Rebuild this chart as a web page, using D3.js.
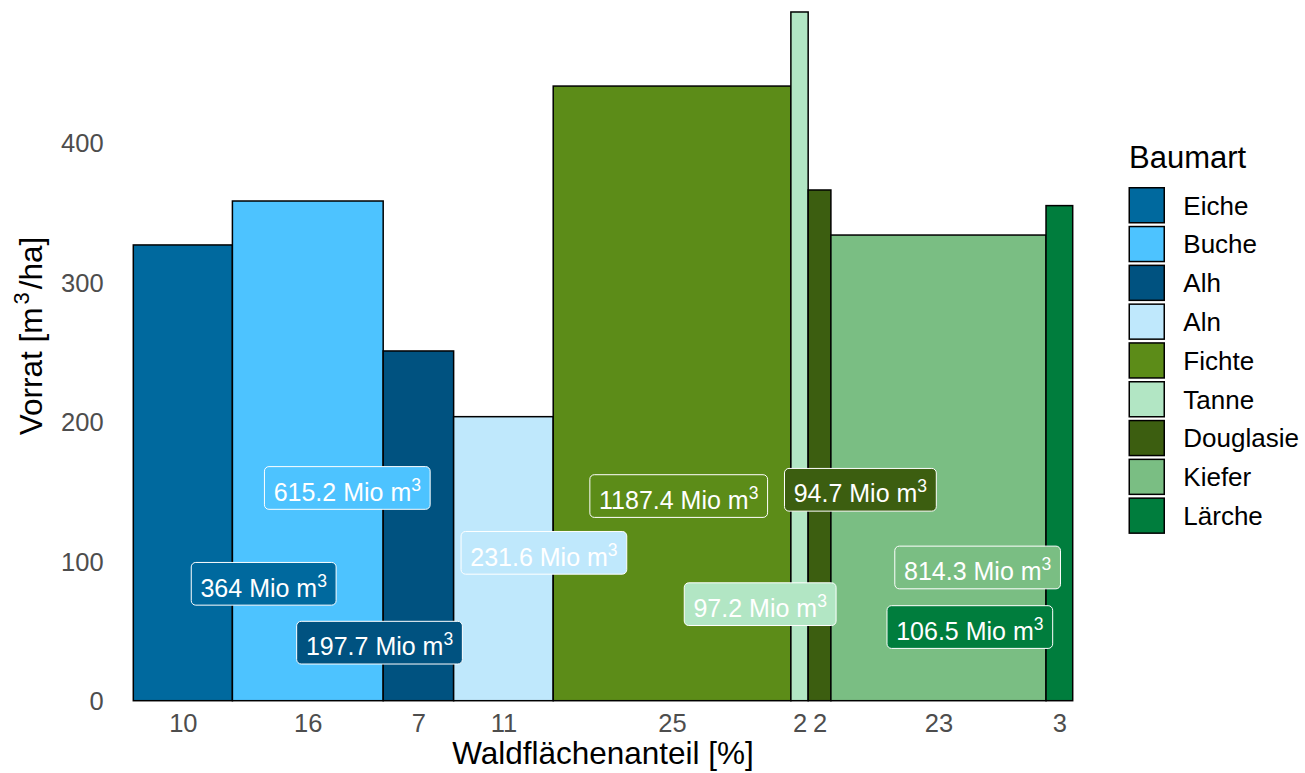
<!DOCTYPE html>
<html>
<head>
<meta charset="utf-8">
<script src="https://cdn.jsdelivr.net/npm/d3@7"></script>
<style>
  html, body { margin: 0; padding: 0; background: #fff; }
  svg { display: block; font-family: "Liberation Sans", Arial, sans-serif; }
</style>
</head>
<body>
<svg id="chart" width="1305" height="773"></svg>
<script>
// ---- data ----
const baumart = ["Eiche", "Buche", "Alh", "Aln", "Fichte", "Tanne", "Douglasie", "Kiefer", "Lärche"];
const vorrat = [326.7, 358.2, 250.7, 203.6, 440.6, 493.7, 366.1, 333.8, 354.9];       // m³/ha
const flaechenanteil = [10.55, 16.05, 7.5, 10.6, 25.3, 1.84, 2.42, 22.9, 2.84];       // % Waldfläche
const xTickLabels = ["10", "16", "7", "11", "25", "2", "2", "23", "3"];
const volumenLabel = ["364", "615.2", "197.7", "231.6", "1187.4", "97.2", "94.7", "814.3", "106.5"]; // Mio m³
const yTicks = [0, 100, 200, 300, 400];
const colors = ["#00699E", "#4DC3FF", "#005280", "#BFE8FC", "#5C8C18", "#B2E6C4", "#3C5E10", "#7ABE83", "#007D3D"];
// label anchor positions in data units (x: cumulative %, y: m³/ha), as placed by the repel layout
const labelX = [13.88, 22.78, 26.21, 43.71, 58.06, 66.73, 77.40, 89.88, 89.05];
const labelY = [83.8, 152.5, 41.6, 106.0, 146.7, 69.2, 151.2, 95.5, 52.8];

// ---- layout ----
const svg = d3.select("#chart");
const x = d3.scaleLinear().domain([0, 100]).range([133.3, 1072.7]);
const y = d3.scaleLinear().domain([0, 400]).range([700.7, 142.7]);
const color = d3.scaleOrdinal().domain(baumart).range(colors);

const cum = d3.cumsum(flaechenanteil);
const bars = baumart.map((b, i) => ({
  name: b, v: vorrat[i],
  x0: i === 0 ? 0 : cum[i - 1], x1: cum[i],
  tick: xTickLabels[i], vol: volumenLabel[i],
  lx: labelX[i], ly: labelY[i]
}));

// bars
svg.append("g").selectAll("rect").data(bars).join("rect")
  .attr("x", d => x(d.x0))
  .attr("y", d => y(d.v))
  .attr("width", d => x(d.x1) - x(d.x0))
  .attr("height", d => y(0) - y(d.v))
  .attr("fill", d => color(d.name))
  .attr("stroke", "#000")
  .attr("stroke-width", 1.5);

// y axis
const yAxis = svg.append("g").attr("transform", `translate(${x(0)},0)`)
  .call(d3.axisLeft(y).tickValues(yTicks).tickSize(0).tickPadding(29.7));
yAxis.select(".domain").remove();
yAxis.selectAll("text").attr("fill", "#4D4D4D").style("font-size", "25.5px")
  .style("font-family", "'Liberation Sans', Arial, sans-serif").attr("dy", "0.36em");

// x axis
const xAxis = svg.append("g").attr("transform", `translate(0,${y(0)})`)
  .call(d3.axisBottom(x).tickValues(bars.map(d => (d.x0 + d.x1) / 2))
    .tickFormat((d, i) => xTickLabels[i]).tickSize(0).tickPadding(0));
xAxis.select(".domain").remove();
xAxis.selectAll("text").attr("fill", "#4D4D4D").style("font-size", "25.5px")
  .style("font-family", "'Liberation Sans', Arial, sans-serif")
  .attr("y", 31).attr("dy", null);

// axis titles
svg.append("text").attr("x", (x(0) + x(100)) / 2).attr("y", 764)
  .attr("text-anchor", "middle").style("font-size", "31.5px").attr("fill", "#000")
  .text("Waldflächenanteil [%]");
const yt = svg.append("text").attr("transform", "translate(42,336) rotate(-90)")
  .attr("text-anchor", "middle").style("font-size", "31.5px").attr("fill", "#000");
yt.append("tspan").text("Vorrat [m");
yt.append("tspan").text("3").style("font-size", "22px").attr("dy", -13).attr("dx", 3);
yt.append("tspan").text("/ha]").attr("dy", 13).attr("dx", 3);

// value labels
const lab = svg.append("g").selectAll("g").data(bars).join("g")
  .attr("transform", d => `translate(${x(d.lx)},${y(d.ly)})`);
const rects = lab.append("rect");
const txt = lab.append("text").attr("text-anchor", "middle").attr("y", 12.7)
  .attr("fill", "#fff").style("font-size", "25px");
txt.append("tspan").text(d => d.vol + " Mio m");
txt.append("tspan").text("3").style("font-size", "17.5px").attr("dy", -10);
lab.each(function () {
  const g = d3.select(this);
  const w = g.select("text").node().getBBox().width + 18.4;
  g.select("rect").attr("x", -w / 2).attr("y", -21.35).attr("width", w).attr("height", 42.7)
    .attr("rx", 4.5).attr("fill", d => color(d.name))
    .attr("stroke", "#fff").attr("stroke-width", 1);
});

// legend
const leg = svg.append("g");
leg.append("text").attr("x", 1129).attr("y", 168.3).style("font-size", "31px").attr("fill", "#000")
  .text("Baumart");
const items = leg.selectAll("g.item").data(baumart).join("g").attr("class", "item")
  .attr("transform", (d, i) => `translate(1128.5,${187 + i * 38.8})`);
items.append("rect").attr("x", 0.75).attr("y", 0.75).attr("width", 35).attr("height", 35)
  .attr("fill", d => color(d)).attr("stroke", "#000").attr("stroke-width", 1.5);
items.append("text").attr("x", 54.8).attr("y", 18.25 + 9.3).style("font-size", "26px").attr("fill", "#000")
  .text(d => d);
</script>
</body>
</html>
